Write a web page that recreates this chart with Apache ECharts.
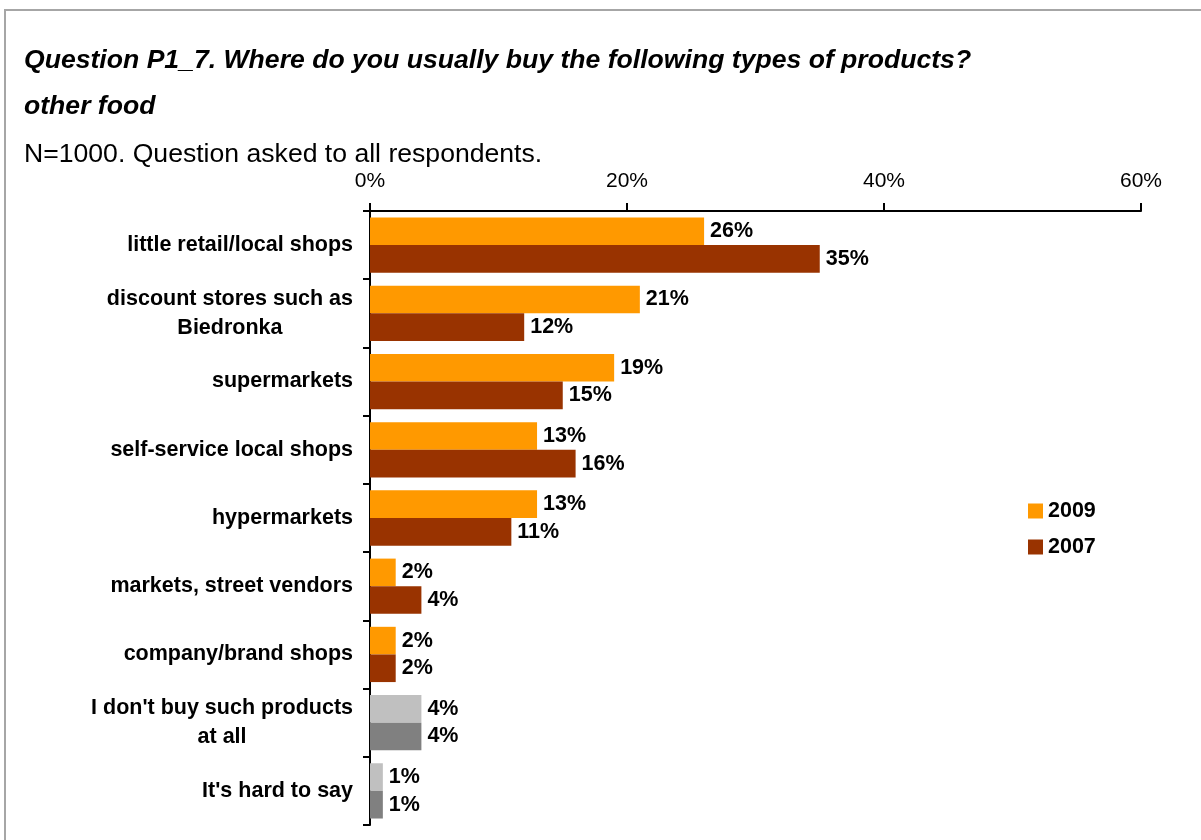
<!DOCTYPE html>
<html>
<head>
<meta charset="utf-8">
<script src="https://cdn.jsdelivr.net/npm/echarts@6/dist/echarts.min.js"></script>
<style>
  html, body { margin: 0; padding: 0; background: #fff; }
  #frame { position: absolute; left: 4px; top: 9px; right: 0; bottom: 0;
           border-top: 2px solid #a6a6a6; border-left: 2px solid #a6a6a6; }
  #chart { position: absolute; left: 0; top: 0; width: 1201px; height: 840px; }
</style>
</head>
<body>
<div id="frame"></div>
<div id="chart"></div>
<script>
// Shop types, top to bottom
const categories = [
  'little retail/local shops',
  'discount stores such as\nBiedronka',
  'supermarkets',
  'self-service local shops',
  'hypermarkets',
  'markets, street vendors',
  'company/brand shops',
  "I don't buy such products\nat all",
  "It's hard to say"
];
// Share of respondents (%)
const values2009 = [26, 21, 19, 13, 13, 2, 2, 4, 1];
const values2007 = [35, 12, 15, 16, 11, 4, 2, 4, 1];
const xTicks = [0, 20, 40, 60];

// The two "no answer" rows are drawn in grey
const greyRows = [7, 8];
const FONT = 'Liberation Sans, Arial, sans-serif';

function colored(values, grey) {
  return values.map((v, i) => greyRows.includes(i)
    ? { value: v, itemStyle: { color: grey } }
    : v);
}

const barLabel = {
  show: true,
  position: 'right',
  distance: 6,
  formatter: '{c}%',
  color: '#000',
  fontFamily: FONT,
  fontWeight: 'bold',
  fontSize: 21.5
};

const titleStyle = { fontFamily: FONT, fontSize: 26.6, fontWeight: 'bold', fontStyle: 'italic', color: '#000' };

const chart = echarts.init(document.getElementById('chart'), null, { renderer: 'canvas' });
chart.setOption({
  backgroundColor: 'transparent',
  animation: false,
  title: [
    { text: 'Question P1_7. Where do you usually buy the following types of products?',
      left: 24, top: 47, padding: 0, textStyle: titleStyle },
    { text: 'other food',
      left: 24, top: 93, padding: 0, textStyle: titleStyle },
    { text: 'N=1000. Question asked to all respondents.',
      left: 24, top: 141, padding: 0,
      textStyle: { fontFamily: FONT, fontSize: 26.6, fontWeight: 'normal', color: '#000' } }
  ],
  legend: {
    orient: 'vertical',
    left: 1028,
    top: 500,
    padding: 0,
    icon: 'rect',
    itemWidth: 15,
    itemHeight: 15,
    itemGap: 14,
    textStyle: { fontFamily: FONT, fontSize: 21.5, fontWeight: 'bold', color: '#000' },
    data: ['2009', '2007']
  },
  grid: { left: 370, right: 60, top: 211, bottom: 15, containLabel: false },
  xAxis: {
    type: 'value',
    position: 'top',
    min: xTicks[0],
    max: xTicks[xTicks.length - 1],
    interval: 20,
    axisLine: { show: true, lineStyle: { color: '#000', width: 2 } },
    axisTick: { show: true, length: 8, lineStyle: { color: '#000', width: 2 } },
    axisLabel: { formatter: '{value}%', fontFamily: FONT, fontSize: 21, color: '#000', margin: 19 },
    splitLine: { show: false }
  },
  yAxis: {
    type: 'category',
    inverse: true,
    data: categories,
    axisLine: { show: true, onZero: false, lineStyle: { color: '#000', width: 2 } },
    axisTick: { show: true, length: 7, alignWithLabel: false, lineStyle: { color: '#000', width: 2 } },
    axisLabel: {
      margin: 17,
      lineHeight: 29,
      formatter: v => v.split('\n').map(s => '{c|' + s + '}').join('\n'),
      rich: {
        c: { align: 'center', fontFamily: FONT, fontSize: 21.5, fontWeight: 'bold', color: '#000', lineHeight: 29 }
      }
    }
  },
  series: [
    {
      name: '2009', type: 'bar',
      barGap: 0, barCategoryGap: '19%',
      itemStyle: { color: '#ff9900' },
      label: barLabel,
      data: colored(values2009, '#c0c0c0')
    },
    {
      name: '2007', type: 'bar',
      barGap: 0, barCategoryGap: '19%',
      itemStyle: { color: '#993300' },
      label: barLabel,
      data: colored(values2007, '#808080')
    }
  ]
});
</script>
</body>
</html>
